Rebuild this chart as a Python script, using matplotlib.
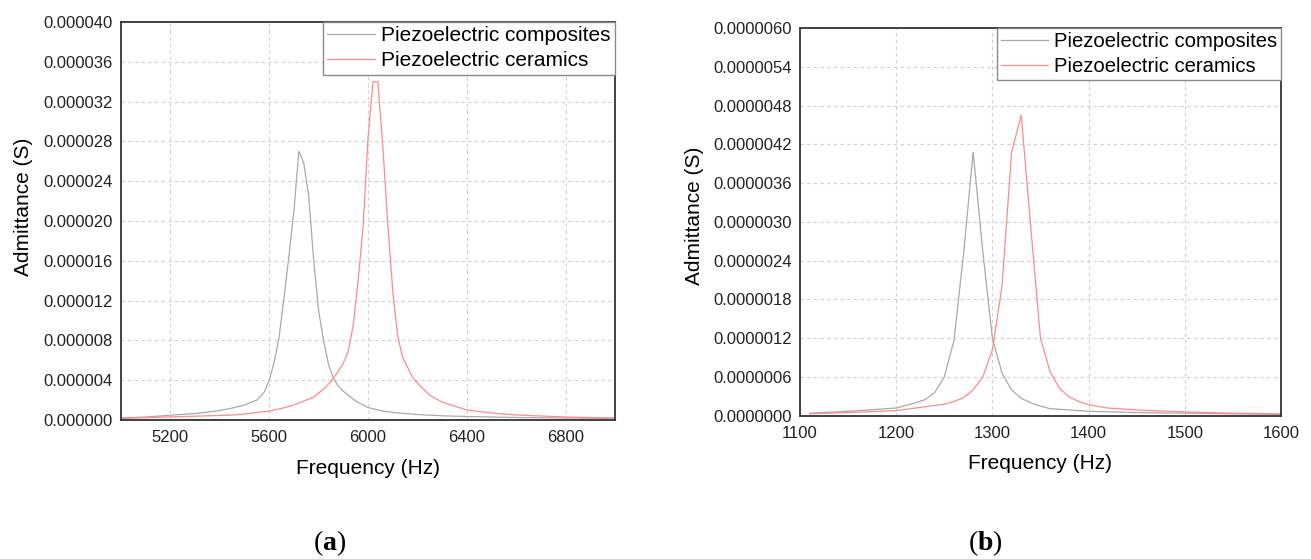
import matplotlib

matplotlib.use("Agg")

import matplotlib.pyplot as plt  # noqa: E402
from matplotlib.ticker import FormatStrFormatter, MultipleLocator  # noqa: E402

plt.rcParams["font.family"] = ["Liberation Sans", "DejaVu Sans"]
plt.rcParams["mathtext.fontset"] = "custom"
plt.rcParams["mathtext.rm"] = "Liberation Serif"
plt.rcParams["mathtext.bf"] = "Liberation Serif:bold"

LABELS = ["Piezoelectric composites", "Piezoelectric ceramics"]
COLORS = ["#a9a9a9", "#ff8a8a"]

# (a) values in micro-siemens
a_comp_f = [5000, 5100, 5200, 5300, 5400, 5450, 5500, 5550, 5580, 5600, 5620,
            5640, 5660, 5680, 5700, 5720, 5740, 5760, 5780, 5800, 5820, 5840,
            5860, 5880, 5900, 5950, 6000, 6050, 6100, 6200, 6300, 6400, 6600,
            6800, 7000]
a_comp_y = [0.2, 0.3, 0.48, 0.65, 0.95, 1.2, 1.5, 2.0, 2.8, 4.0, 5.8,
            8.3, 12.3, 16.5, 21.0, 27.0, 25.8, 22.5, 16.1, 11.0, 8.0, 5.6,
            4.2, 3.4, 2.9, 1.9, 1.25, 0.95, 0.75, 0.55, 0.42, 0.35, 0.25,
            0.2, 0.15]
a_cer_f = [5000, 5200, 5400, 5450, 5500, 5600, 5650, 5700, 5750, 5780, 5800,
           5820, 5840, 5860, 5880, 5900, 5920, 5940, 5960, 5980, 6000, 6020,
           6040, 6060, 6080, 6100, 6120, 6140, 6160, 6180, 6200, 6250, 6300,
           6400, 6500, 6600, 6800, 7000]
a_cer_y = [0.15, 0.31, 0.45, 0.5, 0.6, 0.9, 1.16, 1.5, 2.0, 2.3, 2.7,
           3.1, 3.6, 4.2, 4.9, 5.7, 6.9, 9.5, 14.0, 19.4, 28.3, 34.0,
           34.0, 27.5, 19.8, 13.0, 8.5, 6.3, 5.3, 4.3, 3.7, 2.5, 1.8,
           1.0, 0.7, 0.5, 0.3, 0.2]

# (b) values in micro-siemens
b_comp_f = [1110, 1150, 1200, 1220, 1230, 1240, 1250, 1260, 1270, 1280, 1290,
            1300, 1310, 1320, 1330, 1340, 1350, 1360, 1400, 1450, 1500, 1550,
            1600]
b_comp_y = [0.04, 0.07, 0.12, 0.2, 0.25, 0.36, 0.6, 1.16, 2.5, 4.08, 2.55,
            1.2, 0.66, 0.4, 0.27, 0.2, 0.15, 0.11, 0.07, 0.05, 0.04, 0.03,
            0.02]
b_cer_f = [1110, 1150, 1200, 1250, 1260, 1270, 1280, 1290, 1300, 1310, 1320,
           1330, 1340, 1350, 1360, 1370, 1380, 1390, 1400, 1420, 1450, 1500,
           1550, 1600]
b_cer_y = [0.03, 0.05, 0.08, 0.18, 0.22, 0.28, 0.4, 0.6, 1.02, 2.0, 4.08,
           4.65, 2.9, 1.2, 0.68, 0.42, 0.29, 0.22, 0.17, 0.12, 0.09, 0.06,
           0.04, 0.03]

PANELS = [
    {"rect": [0.0923, 0.2487, 0.3768, 0.7119], "xlim": (5000, 7000),
     "xticks": [5200, 5600, 6000, 6400, 6800],
     "ymax": 40e-6, "ystep": 4e-6, "fmt": "%.6f",
     "ylab_xy": (-(121 - 33) / 494, 0.535),
     "legsize": 15,
     "series": [(a_comp_f, a_comp_y), (a_cer_f, a_cer_y)],
     "caption": "a", "cap_x": 330},
    {"rect": [0.6102, 0.2562, 0.3669, 0.6938], "xlim": (1100, 1600),
     "xticks": [1100, 1200, 1300, 1400, 1500, 1600],
     "ymax": 6e-6, "ystep": 0.6e-6, "fmt": "%.7f",
     "ylab_xy": (-(800 - 704) / 481, 0.515),
     "legsize": 14.6,
     "series": [(b_comp_f, b_comp_y), (b_cer_f, b_cer_y)],
     "caption": "b", "cap_x": 985},
]


def draw_panel(fig, p):
    ax = fig.add_axes(p["rect"])
    for (f, y), color, label in zip(p["series"], COLORS, LABELS):
        ax.plot(f, [v * 1e-6 for v in y], color=color, linewidth=0.9, label=label)
    ax.set_xlim(*p["xlim"])
    ax.set_ylim(0, p["ymax"])
    ax.set_xticks(p["xticks"])
    ax.yaxis.set_major_locator(MultipleLocator(p["ystep"]))
    ax.yaxis.set_major_formatter(FormatStrFormatter(p["fmt"]))
    ax.grid(True, color="#cfcfcf", linestyle=(0, (3, 3)), linewidth=0.8)
    ax.set_axisbelow(True)
    ax.tick_params(length=0, labelsize=12, colors="#222222")
    ax.tick_params(axis="x", pad=7)
    ax.tick_params(axis="y", pad=6)
    for s in ax.spines.values():
        s.set_color("#333333")
        s.set_linewidth(1.3)
    ax.set_xlabel("Frequency (Hz)", fontsize=15, labelpad=10)
    ax.set_ylabel("Admittance (S)", fontsize=15)
    ax.yaxis.set_label_coords(*p["ylab_xy"])
    leg = ax.legend(loc="upper right", fontsize=p["legsize"], borderaxespad=0,
                    fancybox=False, framealpha=1, edgecolor="#8a8a8a",
                    handlelength=2.3, handletextpad=0.3, labelspacing=0.3,
                    borderpad=0.2)
    leg.get_frame().set_linewidth(1.0)
    fig.text(p["cap_x"] / 1311, 1 - 543 / 559,
             r"$\mathrm{(}\mathbf{%s}\mathrm{)}$" % p["caption"],
             ha="center", va="center", fontsize=20)
    return ax


fig = plt.figure(figsize=(13.11, 5.59), dpi=100)
for p in PANELS:
    draw_panel(fig, p)
fig.savefig("out.png", dpi=100)
